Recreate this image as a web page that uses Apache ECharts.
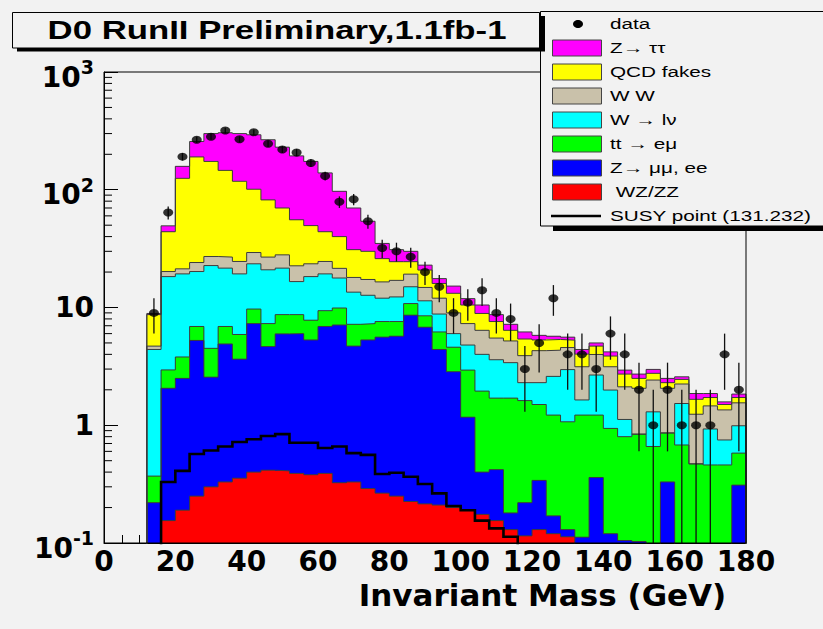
<!DOCTYPE html>
<html><head><meta charset="utf-8">
<script src="https://cdn.jsdelivr.net/npm/echarts@6/dist/echarts.min.js"></script>
<style>html,body{margin:0;padding:0;background:#f2f2f2}#c{width:823px;height:629px}</style>
</head><body><div id="c"></div>
<script>
// ---- data (bins of 4 GeV, lower edges) ----
const binLow = [12,16,20,24,28,32,36,40,44,48,52,56,60,64,68,72,76,80,84,88,92,96,100,104,108,112,116,120,124,128,132,136,140,144,148,152,156,160,164,168,172,176];
const binWidth = 4;
// cumulative stack heights (top of each layer)
const topWZZZ = [0,0.155,0.19,0.25,0.30,0.33,0.355,0.40,0.415,0.41,0.39,0.38,0.39,0.325,0.33,0.29,0.265,0.25,0.225,0.215,0.21,0.2,0.19,0.175,0.155,0.13,0.115,0.13,0.12,0.113,0,0,0,0,0,0,0,0,0,0,0,0];
const topZll = [0.22,2.06,2.5,5.25,2.56,4.9,3.64,7.3,4.66,5.97,6.0,5.3,6.9,7.1,4.7,5.3,5.6,5.7,8.6,6.8,4.4,2.85,1.17,0.40,0.42,0.18,0.22,0.34,0.17,0.13,0.112,0.36,0.12,0.105,0.103,0,0.33,0,0,0,0,0.31];
const topTT = [0.37,2.95,3.8,6.9,4.5,6.9,5.9,9.7,7.3,8.7,8.7,7.8,9.4,9.9,7.2,7.3,7.6,7.6,10.8,8.5,6.2,4.6,2.94,1.95,1.7,1.7,1.62,1.5,1.22,1.07,1.22,1.22,0.94,0.80,0.84,0.66,0.86,0.68,0.47,0.46,0.46,0.58];
const topWlnu = [4.4,18.3,19.3,20.2,22.7,21.6,19.3,23.5,20.9,21.6,16.6,18.3,19.3,17.8,13.5,12.7,12.0,12.3,15.0,11.4,8.8,6.0,4.8,4.0,3.6,3.4,2.3,2.3,2.6,2.97,1.64,2.67,1.99,1.12,0.84,1.30,0.86,1.53,0.47,0.93,0.75,0.99];
const topWW = [4.7,20.2,21.3,24.1,27.1,26.8,24.6,29.3,26.8,28,22.6,23.5,24.6,21.5,18,17.3,16.5,17,19.2,14.8,12.0,9.0,7.3,6.4,5.5,5.2,3.9,4.3,4.34,4.57,3.14,3.99,3.14,2.12,2.06,2.42,2.06,2.24,1.24,1.46,1.35,1.55];
const topQCD = [8.7,44,125,190,174,146,118,101,82,70,55.6,49.6,44,40,31,30,26,24.5,24.5,20.8,16,13.2,10.5,8.9,7.6,6.4,5.4,5.3,5.35,5.28,4.02,4.70,3.87,2.72,2.50,2.76,2.30,2.45,1.66,1.72,1.50,1.72];
const topZtautau = [8.9,49.4,158,257,300,305,300,293,266,230,194,174,139,97,70,54,35,31,30,22.9,17.6,15.2,11.9,10.5,8.7,7.2,6.2,5.8,5.7,5.6,4.4,5.0,4.2,2.94,2.72,2.98,2.50,2.58,1.86,1.86,1.58,1.84];
const susyPoint = [0,0.33,0.41,0.57,0.61,0.66,0.72,0.76,0.81,0.84,0.71,0.71,0.64,0.66,0.58,0.56,0.385,0.395,0.365,0.317,0.264,0.206,0.19,0.155,0.133,0.113,0.09,0,0,0,0,0,0,0,0,0,0,0,0,0,0,0];
const dataCounts = [9,64,191,266,282,318,268,308,246,220,207,169,131,79,83,54,32,30,27,20,15,9,11,14,9,8,3,5,12,4,4,3,6,4,2,1,2,1,1,1,4,2];
const dataErr = [3,8,13.8,16.3,16.8,17.8,16.4,17.5,15.7,14.8,14.4,13,11.4,8.9,9.1,7.3,5.7,5.5,5.2,4.5,3.9,3,3.3,3.7,3,2.8,1.7,2.2,3.5,2,2,1.7,2.4,2,1.4,1,1.4,1,1,1,2,1.4];
const yMajorTicks = [0.1,1,10,100,1000];
const yMinorTicks = [0.2,0.3,0.4,0.5,0.6,0.7,0.8,0.9,2,3,4,5,6,7,8,9,20,30,40,50,60,70,80,90,200,300,400,500,600,700,800,900];
const titleText = 'D0 RunII Preliminary,1.1fb-1';
const xAxisTitle = 'Invariant Mass (GeV)';

const BG = '#f2f2f2';
const TAN = '#c9c1aa';
const FLOOR = 0.1, LOW = 0.01;
const layers = [
  {name:'WZ/ZZ', label:' WZ/ZZ', color:'#ff0000', top: topWZZZ, below: null},
  {name:'Z→ μμ, ee', label:'Z→ μμ, ee', color:'#0000ff', top: topZll, below: topWZZZ},
  {name:'tt → eμ', label:'tt → eμ', color:'#00ff00', top: topTT, below: topZll},
  {name:'W → lν', label:'W → lν', color:'#00ffff', top: topWlnu, below: topTT},
  {name:'W W', label:'W W', color: TAN, top: topWW, below: topWlnu},
  {name:'QCD fakes', label:'QCD fakes', color:'#ffff00', top: topQCD, below: topWW},
  {name:'Z→ ττ', label:'Z→ ττ', color:'#ff00ff', top: topZtautau, below: topQCD}
];

function fillSeries(layer) {
  return {
    type:'custom', name: layer.name, clip: true, z: 2, silent: true,
    data: binLow.map((x,i)=>[x, layer.below ? layer.below[i] : 0, layer.top[i]]),
    encode:{x:0, y:2},
    renderItem(params, api){
      const x0 = api.value(0), lo = api.value(1), hi = api.value(2);
      if (!(hi > FLOOR)) return null;
      const a = api.coord([x0, hi]);
      const b = api.coord([x0 + binWidth, Math.max(lo, FLOOR)]);
      const xL = Math.round(a[0]), xR = Math.round(b[0]);
      const yT = Math.round(a[1]), yB = Math.round(b[1]);
      if (yB - yT <= 0) return null;
      return {type:'rect', shape:{x:xL, y:yT, width:xR-xL, height:yB-yT}, style:{fill: layer.color}};
    }
  };
}
function stepSeries(arr, color, width, z, name) {
  const pts = [[binLow[0], LOW]];
  binLow.forEach((x,i)=> pts.push([x, arr[i] > 0 ? arr[i] : LOW]));
  pts.push([binLow[binLow.length-1] + binWidth, LOW]);
  return {type:'line', name, step:'end', data: pts, symbol:'none', showSymbol:false, clip:true, silent:true,
          lineStyle:{color, width, cap:'butt', join:'miter'}, z};
}

const series = [];
layers.forEach(l => series.push(fillSeries(l)));
layers.forEach(l => series.push(stepSeries(l.top, '#3c3c3c', 1, 3, l.name + ' outline')));
series.push(stepSeries(susyPoint, '#000', 2.6, 4, 'SUSY point (131.232)'));
series.push({
  type:'custom', name:'minor ticks', z:1, silent:true,
  data: yMinorTicks.map(v=>[0, v]), encode:{x:0, y:1},
  renderItem(p, api){
    const c = api.coord([api.value(0), api.value(1)]);
    return {type:'line', shape:{x1:c[0], y1:c[1], x2:c[0]+8, y2:c[1]}, style:{stroke:'#000', lineWidth:1}};
  }
});
series.push({
  type:'custom', name:'data errors', z:5, clip:true, silent:true,
  data: binLow.map((x,i)=>[x + binWidth/2, dataCounts[i], dataErr[i]]), encode:{x:0, y:1},
  renderItem(p, api){
    const x = api.value(0), n = api.value(1), e = api.value(2);
    const t = api.coord([x, n + e]);
    const b = api.coord([x, Math.max(n - e, FLOOR)]);
    return {type:'line', shape:{x1:t[0], y1:t[1], x2:b[0], y2:b[1]}, style:{stroke:'#111', lineWidth:1.3}};
  }
});
series.push({
  type:'scatter', name:'data', z:6, silent:true,
  data: binLow.map((x,i)=>[x + binWidth/2, dataCounts[i]]),
  symbol:'circle', symbolSize:[10,8], itemStyle:{color:'#000'}
});

// ---- legend and title drawn as graphic elements ----
const graphics = [];
graphics.push({type:'rect', z:100, shape:{x:553, y:226, width:275, height:5}, style:{fill:'#000'}});
graphics.push({type:'rect', z:100, shape:{x:540.5, y:11.5, width:300, height:214.5}, style:{fill:BG, stroke:'#000', lineWidth:1}});
const legendRows = [{label:'data', kind:'dot'}].concat(
  layers.slice().reverse().map(l=>({label:l.label, kind:'box', color:l.color})),
  [{label:'SUSY point (131.232)', kind:'line'}]);
legendRows.forEach((r, i) => {
  const y = 24 + i * 24;
  if (r.kind === 'dot') graphics.push({type:'ellipse', z:101, shape:{cx:578, cy:y, rx:5, ry:4}, style:{fill:'#000'}});
  else if (r.kind === 'box') graphics.push({type:'rect', z:101, shape:{x:552.5, y:y-8, width:49, height:16}, style:{fill:r.color, stroke:'#444', lineWidth:1}});
  else graphics.push({type:'line', z:101, shape:{x1:551, y1:y, x2:601, y2:y}, style:{stroke:'#000', lineWidth:2.5}});
  graphics.push({type:'text', z:101, x:610, y:y, scaleX:1.38,
    style:{text:r.label, fill:'#000', font:'15px "Liberation Sans", Arial, sans-serif', verticalAlign:'middle', align:'left'}});
});
graphics.push({type:'rect', z:102, shape:{x:17, y:48, width:528, height:3.5}, style:{fill:'#000'}});
graphics.push({type:'rect', z:102, shape:{x:540, y:16, width:5, height:35}, style:{fill:'#000'}});
graphics.push({type:'rect', z:103, shape:{x:12.5, y:12.5, width:527, height:35.5}, style:{fill:BG, stroke:'#000', lineWidth:1}});
graphics.push({type:'text', z:104, x:277, y:30.5, scaleX:1.39,
  style:{text:titleText, fill:'#000', font:'bold 25px "Liberation Sans", Arial, sans-serif', verticalAlign:'middle', align:'center'}});

const labelFont = {fontFamily:'"DejaVu Sans", sans-serif', fontWeight:'bold', color:'#000'};
const chart = echarts.init(document.getElementById('c'), null, {renderer:'svg'});
chart.setOption({
  backgroundColor: BG,
  animation: false,
  grid: {left:104, top:72, width:642, height:471, show:true, backgroundColor:'transparent', borderColor:'#000', borderWidth:1, z:10, outerBoundsMode:'none'},
  xAxis: {
    type:'value', min:0, max:180, interval:20,
    axisLine:{show:true, lineStyle:{color:'#000', width:1}},
    axisTick:{show:true, inside:true, length:14, lineStyle:{color:'#000', width:1}},
    minorTick:{show:true, splitNumber:4, length:8, lineStyle:{color:'#000', width:1}},
    splitLine:{show:false},
    axisLabel:Object.assign({fontSize:28, margin:4, showMinLabel:true, showMaxLabel:true}, labelFont),
    name: xAxisTitle, nameLocation:'middle', nameGap:31,
    nameTextStyle:Object.assign({fontSize:31, padding:[0,0,0,235]}, labelFont)
  },
  yAxis: {
    type:'log', logBase:10, min:0.1, max:1000, splitNumber:4,
    axisLine:{show:true, lineStyle:{color:'#000', width:1}},
    axisTick:{show:true, inside:true, length:14, lineStyle:{color:'#000', width:1}},
    minorTick:{show:false}, splitLine:{show:false},
    axisLabel:{
      margin:10, showMinLabel:true, showMaxLabel:true,
      formatter: v => {
        const e = Math.round(Math.log10(v));
        if (yMajorTicks.indexOf(Math.pow(10, e)) < 0 && e !== -1) return '';
        if (e === 0) return '{b|1}';
        if (e === 1) return '{b|10}';
        return '{bb|10}{s|' + e + '}';
      },
      rich:{
        b: Object.assign({fontSize:28}, labelFont),
        bb: Object.assign({fontSize:28, padding:[10,0,0,0]}, labelFont),
        s: Object.assign({fontSize:19, padding:[0,0,10,0]}, labelFont)
      }
    }
  },
  graphic: graphics,
  series: series
});
</script>
</body></html>
